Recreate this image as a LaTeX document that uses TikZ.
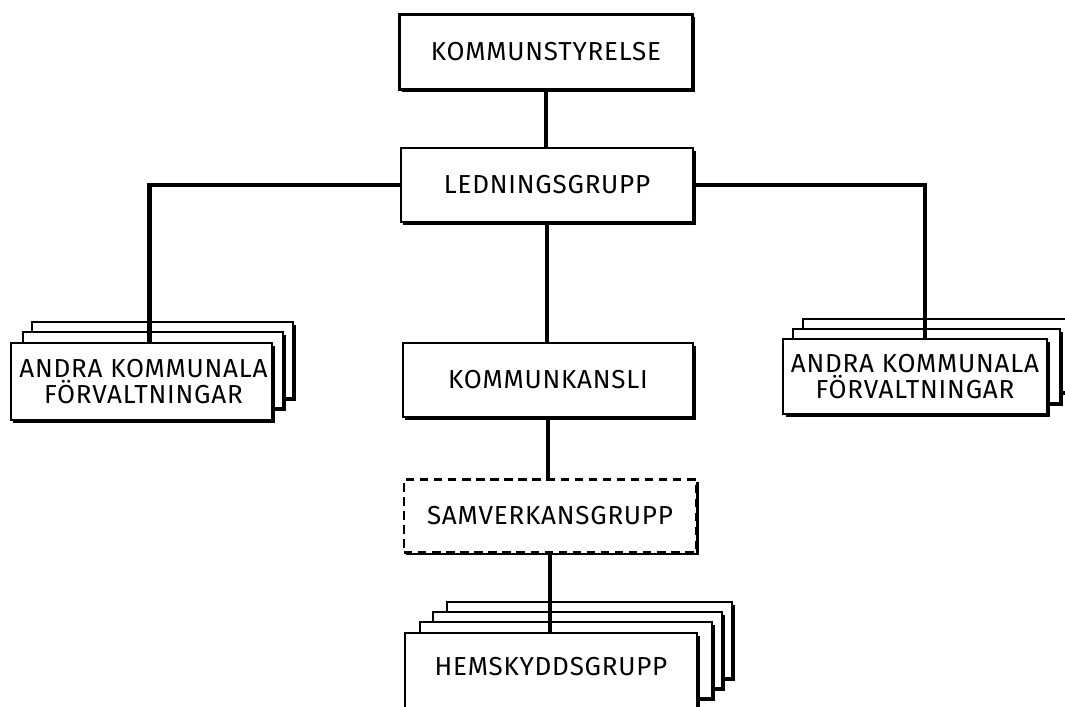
\documentclass[tikz,border=0pt]{standalone}
\usepackage{fontspec}
\setmainfont{Fira Sans}[LetterSpace=3]
\usetikzlibrary{positioning}
\usetikzlibrary{shadows}
\tikzset{>=latex}
\tikzset{
  box/.style={rectangle, draw, fill=white, line width=1.6pt, inner sep=0pt,
    align=center, font=\fontsize{18.5}{18.5}\selectfont,
    drop shadow={shadow xshift=1.8pt, shadow yshift=-1.8pt, fill=black, opacity=1}},
  sheet/.style={box, minimum height=1.9cm},
  link/.style={line width=3.2pt, line cap=rect},
}

\begin{document}
\begin{tikzpicture}[x=0.025cm, y=-0.025cm]
    \useasboundingbox (0, 0) rectangle (1065, 706);
    % main column
    \node at (546, 52) [box, minimum width=7.325cm, minimum height=1.875cm] (styr) {KOMMUNSTYRELSE};
    \node at (547, 185) [box, minimum width=7.3cm, minimum height=1.85cm] (led) {LEDNINGSGRUPP};
    \node at (548, 380) [box, minimum width=7.25cm, minimum height=1.85cm] (kansli) {KOMMUNKANSLI};
    \node at (550, 516) [box, dash pattern=on 6pt off 4pt, minimum width=7.3cm, minimum height=1.825cm] (samv) {SAMVERKANSGRUPP};
    % left stack
    \node at (162.5, 360) [sheet, minimum width=6.525cm] (left3) {};
    \node at (153, 370) [sheet, minimum width=6.5cm] (left2) {};
    \node at (141.5, 381.5) [box, minimum width=6.525cm, minimum height=1.925cm] (left) {\hspace{0.1cm}ANDRA KOMMUNALA\\\hspace{0.1cm}FÖRVALTNINGAR};
    % right stack
    \node at (937.5, 355.5) [sheet, minimum width=6.725cm, minimum height=1.825cm] (right3) {};
    \node at (926.5, 366) [sheet, minimum width=6.675cm, minimum height=1.85cm] (right2) {};
    \node at (915, 376.5) [box, minimum width=6.6cm, minimum height=1.875cm] (right) {ANDRA KOMMUNALA\\FÖRVALTNINGAR};
    % bottom stack
    \node at (589.5, 640) [sheet, minimum width=7.125cm] (hem4) {};
    \node at (577.5, 650) [sheet, minimum width=7.225cm] (hem3) {};
    \node at (566, 660) [sheet, minimum width=7.3cm] (hem2) {};
    \node at (551, 674) [box, minimum width=7.3cm, minimum height=2.05cm] (hem) {\raisebox{0.4cm}{HEMSKYDDSGRUPP}};
    % connectors
    \draw [link] (styr.south) to (styr.south |- led.north);
    \draw [link] (led.south) to (led.south |- kansli.north);
    \draw [link] (kansli.south) to (kansli.south |- samv.north);
    \draw [link] (samv.south) to (samv.south |- hem.north);
    \draw [link] (led.west) -| ([xshift=0.2cm]left.north);
    \draw [link] (led.east) -| ([xshift=0.25cm]right.north);
\end{tikzpicture}
\end{document}
